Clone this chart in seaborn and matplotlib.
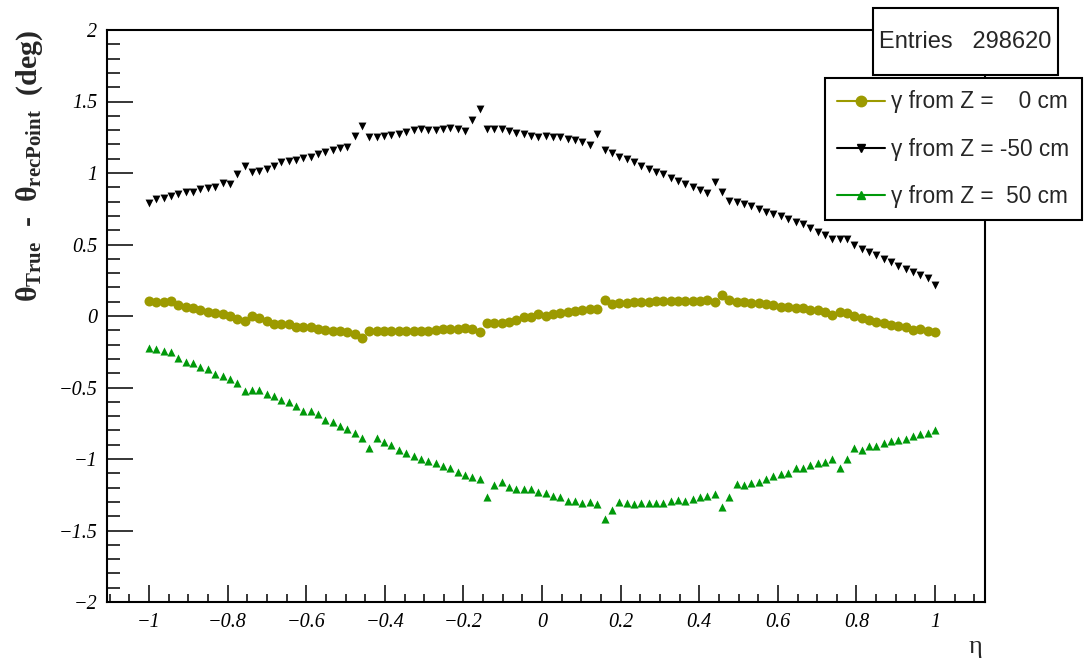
import numpy as np
import pandas as pd
import matplotlib
matplotlib.use("Agg")
import matplotlib.pyplot as plt
import seaborn as sns
from matplotlib.lines import Line2D
from matplotlib.patches import Rectangle
from matplotlib.ticker import FixedLocator, MultipleLocator, FixedFormatter

# ---------------- data ----------------
eta = np.linspace(-1.0, 1.0, 108)

dtheta_z0 = [
    0.105, 0.100, 0.100, 0.107, 0.077, 0.065, 0.054, 0.042, 0.030, 0.023,
    0.014, 0.000, -0.021, -0.035, 0.000, -0.016, -0.035, -0.056, -0.056, -0.056,
    -0.079, -0.079, -0.079, -0.093, -0.098, -0.103, -0.103, -0.112, -0.126, -0.156,
    -0.105, -0.107, -0.107, -0.107, -0.107, -0.107, -0.107, -0.105, -0.103, -0.100,
    -0.093, -0.091, -0.091, -0.084, -0.091, -0.114, -0.051, -0.047, -0.047, -0.040,
    -0.025, -0.010, -0.005, 0.012, 0.003, 0.012, 0.020, 0.028, 0.036, 0.042,
    0.048, 0.052, 0.115, 0.084, 0.089, 0.093, 0.096, 0.100, 0.100, 0.103,
    0.105, 0.105, 0.105, 0.105, 0.105, 0.107, 0.112, 0.096, 0.150, 0.112,
    0.100, 0.100, 0.093, 0.089, 0.084, 0.077, 0.065, 0.061, 0.054, 0.054,
    0.042, 0.042, 0.026, 0.007, 0.030, 0.019, 0.000, -0.016, -0.028, -0.040,
    -0.047, -0.063, -0.070, -0.079, -0.098, -0.093, -0.103, -0.114,
]

dtheta_zm50 = [
    0.790, 0.815, 0.825, 0.840, 0.855, 0.865, 0.870, 0.885, 0.895, 0.905,
    0.930, 0.925, 0.995, 1.050, 1.010, 1.015, 1.025, 1.050, 1.075, 1.085,
    1.090, 1.105, 1.115, 1.130, 1.145, 1.160, 1.175, 1.180, 1.260, 1.330,
    1.255, 1.250, 1.260, 1.265, 1.275, 1.285, 1.300, 1.305, 1.300, 1.300,
    1.310, 1.315, 1.305, 1.295, 1.370, 1.450, 1.310, 1.305, 1.310, 1.295,
    1.280, 1.270, 1.260, 1.255, 1.260, 1.255, 1.250, 1.240, 1.230, 1.220,
    1.195, 1.275, 1.160, 1.140, 1.115, 1.095, 1.075, 1.050, 1.030, 1.010,
    0.990, 0.965, 0.945, 0.925, 0.900, 0.880, 0.860, 0.935, 0.870, 0.805,
    0.795, 0.785, 0.770, 0.750, 0.730, 0.715, 0.700, 0.680, 0.660, 0.640,
    0.615, 0.590, 0.565, 0.540, 0.535, 0.535, 0.500, 0.470, 0.450, 0.430,
    0.400, 0.375, 0.350, 0.330, 0.310, 0.290, 0.265, 0.220,
]

dtheta_zp50 = [
    -0.226, -0.233, -0.242, -0.254, -0.291, -0.319, -0.331, -0.359, -0.371, -0.406,
    -0.417, -0.443, -0.471, -0.522, -0.517, -0.517, -0.548, -0.559, -0.587, -0.599,
    -0.627, -0.664, -0.664, -0.688, -0.727, -0.739, -0.767, -0.790, -0.820, -0.856,
    -0.926, -0.856, -0.884, -0.902, -0.937, -0.960, -0.977, -1.000, -1.014, -1.030,
    -1.049, -1.061, -1.093, -1.112, -1.124, -1.140, -1.268, -1.182, -1.159, -1.198,
    -1.212, -1.212, -1.212, -1.228, -1.240, -1.259, -1.263, -1.291, -1.291, -1.305,
    -1.298, -1.315, -1.422, -1.357, -1.298, -1.305, -1.315, -1.305, -1.305, -1.305,
    -1.305, -1.291, -1.287, -1.291, -1.280, -1.268, -1.259, -1.245, -1.338, -1.263,
    -1.175, -1.182, -1.166, -1.159, -1.142, -1.119, -1.105, -1.096, -1.065, -1.065,
    -1.042, -1.026, -1.019, -1.002, -1.065, -1.002, -0.925, -0.937, -0.907, -0.907,
    -0.890, -0.874, -0.867, -0.862, -0.839, -0.825, -0.820, -0.797,
]

series_labels = ["γ from Z =    0 cm", "γ from Z = -50 cm", "γ from Z =  50 cm"]
series_colors = ["#9c9a00", "#000000", "#00990a"]
series_markers = ["o", "v", "^"]

x_ticks = [-1.0, -0.8, -0.6, -0.4, -0.2, 0.0, 0.2, 0.4, 0.6, 0.8, 1.0]
x_tick_labels = ["\u22121", "\u22120.8", "\u22120.6", "\u22120.4", "\u22120.2",
                 "0", "0.2", "0.4", "0.6", "0.8", "1"]
y_ticks = [-2.0, -1.5, -1.0, -0.5, 0.0, 0.5, 1.0, 1.5, 2.0]
y_tick_labels = ["\u22122", "\u22121.5", "\u22121", "\u22120.5", "0",
                 "0.5", "1", "1.5", "2"]
entries = 298620

# ---------------- style ----------------
sns.set_style("ticks")
plt.rcParams["mathtext.fontset"] = "custom"
plt.rcParams["mathtext.rm"] = "Liberation Serif:bold"
plt.rcParams["mathtext.it"] = "Liberation Serif:bold"
plt.rcParams["mathtext.bf"] = "Liberation Serif:bold"
plt.rcParams["font.family"] = ["Liberation Sans", "DejaVu Sans"]

W, H = 1084, 668
fig = plt.figure(figsize=(W / 100, H / 100), dpi=100)
fig.patch.set_facecolor("white")
ax = fig.add_axes([107 / W, 1 - 602 / H, 878 / W, 572 / H])
ax.set_facecolor("white")

df = pd.DataFrame({
    "eta": np.tile(eta, 3),
    "dtheta": np.concatenate([dtheta_z0, dtheta_zm50, dtheta_zp50]),
    "source": np.repeat(series_labels, len(eta)),
})

sizes = [52, 32, 34]
for lab, col, mk, sz in zip(series_labels, series_colors, series_markers, sizes):
    sns.scatterplot(data=df[df["source"] == lab], x="eta", y="dtheta",
                    color=col, marker=mk, s=sz, linewidth=0, ax=ax,
                    legend=False, zorder=3)

ax.set_xlim(-1.107, 1.127)
ax.set_ylim(-2, 2)

ax.xaxis.set_major_locator(FixedLocator(x_ticks))
ax.xaxis.set_major_formatter(FixedFormatter(x_tick_labels))
ax.xaxis.set_minor_locator(MultipleLocator(0.05))
ax.yaxis.set_major_locator(FixedLocator(y_ticks))
ax.yaxis.set_major_formatter(FixedFormatter(y_tick_labels))
ax.yaxis.set_minor_locator(MultipleLocator(0.1))

ax.tick_params(axis="x", which="major", direction="in", length=12, width=1.1,
               color="black", pad=8, top=False)
ax.tick_params(axis="x", which="minor", direction="in", length=6, width=1.1,
               color="black", top=False)
ax.tick_params(axis="y", which="major", direction="in", length=18.5, width=1.1,
               color="black", pad=7, right=False)
ax.tick_params(axis="y", which="minor", direction="in", length=9.3, width=1.1,
               color="black", right=False)

for lbl in ax.get_xticklabels() + ax.get_yticklabels():
    lbl.set_family(["Liberation Serif", "DejaVu Serif"])
    lbl.set_style("italic")
    lbl.set_fontsize(14.5)
    lbl.set_color("black")

for sp in ax.spines.values():
    sp.set_visible(True)
    sp.set_color("black")
    sp.set_linewidth(1.5)

ax.set_xlabel("η", loc="right", fontsize=19,
              family=["Liberation Serif", "DejaVu Serif"])
ax.xaxis.set_label_coords(0.997, -0.06)
ax.set_ylabel(r"$\theta_{True}$  -  $\theta_{recPoint}$  (deg)", loc="top",
              fontsize=21.5, fontweight="bold",
              family=["Liberation Serif", "DejaVu Serif"])
ax.yaxis.set_label_coords(-0.071, 1.0)

# ---------------- stats box ----------------
box = Rectangle((873 / W, 1 - 75 / H), 185 / W, 67 / H, transform=fig.transFigure,
                facecolor="white", edgecolor="black", linewidth=1.5, zorder=10)
fig.add_artist(box)
fig.text(965.5 / W, 1 - 41.5 / H, f"Entries   {entries}", ha="center", va="center",
         fontsize=17, family=["Liberation Sans", "DejaVu Sans"], zorder=11)

# ---------------- legend ----------------
handles = [Line2D([], [], color=c, marker=m, markersize=ms, linewidth=1.5)
           for c, m, ms in zip(series_colors, series_markers, [7.5, 5.5, 5.5])]
leg = fig.legend(handles, series_labels, loc="upper left",
                 bbox_to_anchor=(825 / W, 1 - 215 / H, 257 / W, 137 / H),
                 mode="expand", borderaxespad=0, frameon=True, fancybox=False,
                 framealpha=1, edgecolor="black",
                 prop={"family": ["Liberation Sans", "DejaVu Sans"], "size": 16.3},
                 labelspacing=1.07, borderpad=0.55, handlelength=2.1,
                 handletextpad=0.25)
leg.get_frame().set_linewidth(1.5)
leg.set_zorder(10)

fig.savefig("out.png", dpi=100, facecolor="white")
